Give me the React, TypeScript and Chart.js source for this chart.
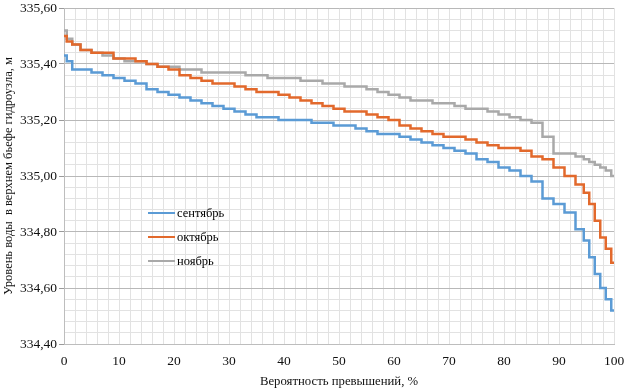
import React, { useEffect, useRef } from "react";
import { Chart, registerables } from "chart.js";

Chart.register(...registerables);

const probabilities = [0, 1, 2, 4, 6, 8, 10, 12, 14, 16, 18, 20, 22, 24, 26, 28, 30, 32, 34, 36, 38, 40, 42, 44, 46, 48, 50, 52, 54, 56, 58, 60, 62, 64, 66, 68, 70, 72, 74, 76, 78, 80, 82, 84, 86, 88, 90, 92, 94, 95, 96, 97, 98, 99, 100];

const september = [335.43, 335.41, 335.38, 335.38, 335.37, 335.36, 335.35, 335.34, 335.33, 335.31, 335.30, 335.29, 335.28, 335.27, 335.26, 335.25, 335.24, 335.23, 335.22, 335.21, 335.21, 335.20, 335.20, 335.20, 335.19, 335.19, 335.18, 335.18, 335.17, 335.16, 335.15, 335.15, 335.14, 335.13, 335.12, 335.11, 335.10, 335.09, 335.08, 335.06, 335.05, 335.03, 335.02, 335.00, 334.98, 334.92, 334.90, 334.87, 334.81, 334.77, 334.71, 334.65, 334.60, 334.56, 334.52];

const october = [335.50, 335.48, 335.47, 335.45, 335.44, 335.44, 335.42, 335.42, 335.41, 335.40, 335.39, 335.38, 335.36, 335.35, 335.34, 335.33, 335.33, 335.32, 335.31, 335.30, 335.30, 335.29, 335.28, 335.27, 335.26, 335.25, 335.24, 335.23, 335.23, 335.22, 335.21, 335.20, 335.18, 335.17, 335.16, 335.15, 335.14, 335.14, 335.13, 335.12, 335.11, 335.10, 335.10, 335.09, 335.07, 335.06, 335.03, 335.00, 334.97, 334.94, 334.90, 334.84, 334.78, 334.74, 334.69];

const november = [335.52, 335.49, 335.47, 335.45, 335.44, 335.43, 335.42, 335.41, 335.41, 335.40, 335.39, 335.39, 335.38, 335.38, 335.37, 335.37, 335.37, 335.37, 335.36, 335.36, 335.35, 335.35, 335.35, 335.34, 335.34, 335.33, 335.33, 335.32, 335.32, 335.31, 335.30, 335.29, 335.28, 335.27, 335.27, 335.26, 335.26, 335.25, 335.24, 335.24, 335.23, 335.22, 335.21, 335.20, 335.19, 335.14, 335.08, 335.08, 335.07, 335.06, 335.05, 335.04, 335.03, 335.02, 335.00];

const seriesNames = ["сентябрь", "октябрь", "ноябрь"];
const seriesColors = ["#5b9bd5", "#e2692c", "#a9a9a9"];

const xTitle = "Вероятность превышений, %";
const yTitle = "Уровень воды  в верхнем бьефе гидроузла, м";

const FONT = "'Liberation Serif', 'Times New Roman', serif";

const isMultiple = (v: number, step: number) => Math.abs(Math.round(v / step) * step - v) < 1e-6;

const insideLegend = {
  id: "insideLegend",
  afterDatasetsDraw(chart: any) {
    const { ctx, chartArea } = chart;
    const x0 = chartArea.left + 84;
    const y0 = chartArea.top + 205;
    ctx.save();
    ctx.font = `12.5px ${FONT}`;
    ctx.textBaseline = "middle";
    chart.data.datasets.forEach((ds: any, i: number) => {
      const y = y0 + i * 24;
      ctx.strokeStyle = ds.borderColor;
      ctx.lineWidth = 2;
      ctx.beginPath();
      ctx.moveTo(x0, y);
      ctx.lineTo(x0 + 27, y);
      ctx.stroke();
      ctx.fillStyle = "#000";
      ctx.fillText(ds.label, x0 + 29, y + 1);
    });
    ctx.restore();
  },
};

export default function App() {
  const ref = useRef<HTMLCanvasElement>(null);
  useEffect(() => {
    if (!ref.current) return;
    const series = [september, october, november];
    const chart = new Chart(ref.current, {
      type: "line",
      data: {
        datasets: series.map((s, i) => ({
          label: seriesNames[i],
          data: s.map((v, j) => ({ x: probabilities[j], y: v })),
          borderColor: seriesColors[i],
          backgroundColor: seriesColors[i],
          borderWidth: 2.5,
          pointRadius: 0,
          stepped: "middle" as const,
          fill: false,
        })),
      },
      options: {
        animation: false,
        responsive: false,
        maintainAspectRatio: false,
        layout: { padding: { top: 8, right: 12, left: 0, bottom: 0 } },
        plugins: { legend: { display: false }, tooltip: { enabled: false } },
        scales: {
          x: {
            type: "linear",
            min: 0,
            max: 100,
            border: { display: true, color: "#bdbdbd" },
            ticks: {
              stepSize: 2,
              autoSkip: false,
              maxRotation: 0,
              padding: 9,
              color: "#111",
              font: { family: FONT, size: 13.5 },
              callback: (v: any) => (isMultiple(Number(v), 10) ? String(Math.round(Number(v))) : ""),
            },
            grid: { drawTicks: false, color: "#e2e2e2", lineWidth: 1 },
            title: { display: true, text: xTitle, color: "#111", font: { family: FONT, size: 12.75 }, padding: { top: 4, bottom: 0 } },
            afterFit: (scale: any) => {
              scale.height = 45;
              scale.paddingRight = 0;
              scale.paddingLeft = 0;
            },
          },
          y: {
            type: "linear",
            min: 334.4,
            max: 335.6,
            border: { display: true, color: "#bdbdbd" },
            ticks: {
              stepSize: 0.04,
              autoSkip: false,
              padding: 2,
              color: "#111",
              font: { family: FONT, size: 13.5 },
              callback: (v: any) => (isMultiple(Number(v), 0.2) ? Number(v).toFixed(2).replace(".", ",") : ""),
            },
            grid: {
              drawTicks: true,
              tickLength: 5,
              lineWidth: 1,
              tickColor: (c: any) => (c.tick && isMultiple(c.tick.value, 0.2) ? "#9a9a9a" : "rgba(0,0,0,0)"),
              color: (c: any) => (c.tick && isMultiple(c.tick.value, 0.2) ? "#b8b8b8" : "#e2e2e2"),
            },
            title: { display: true, text: yTitle, color: "#111", font: { family: FONT, size: 12.5 }, padding: { top: 1, bottom: 2 } },
            afterFit: (scale: any) => {
              scale.width = 64;
              scale.paddingTop = 0;
              scale.paddingBottom = 0;
            },
          },
        },
      },
      plugins: [insideLegend],
    });
    return () => chart.destroy();
  }, []);
  return (
    <div style={{ position: "fixed", left: 0, top: 0, width: 626, height: 389, background: "#fff" }}>
      <canvas ref={ref} width={626} height={389} style={{ display: "block" }} />
    </div>
  );
}
